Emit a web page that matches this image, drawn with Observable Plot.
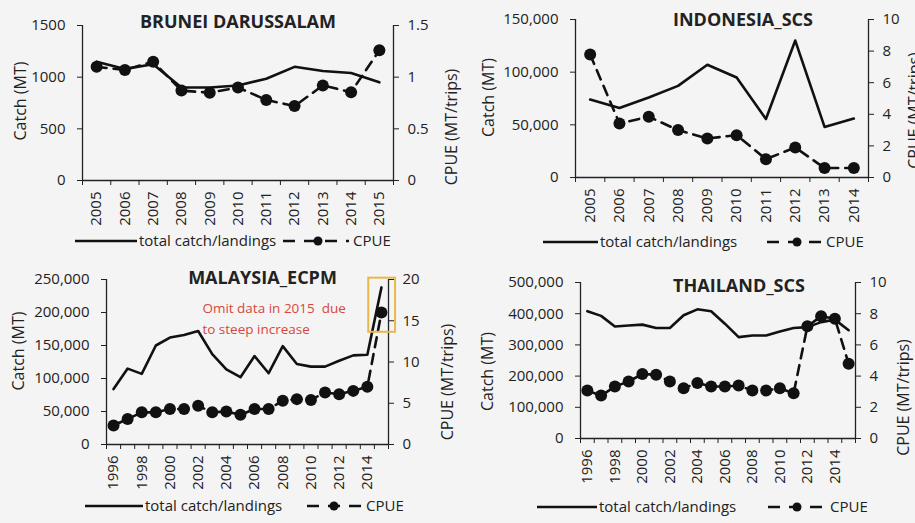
<!DOCTYPE html>
<html><head><meta charset="utf-8">
<script src="https://cdn.jsdelivr.net/npm/d3@7"></script>
<script src="https://cdn.jsdelivr.net/npm/@observablehq/plot@0.6"></script>
<style>
html,body{margin:0;padding:0;background:#f4f4f4;overflow:hidden;}
#wrap{position:relative;width:915px;height:523px;font-family:"Open Sans",sans-serif;color:#222;}
.panel{position:absolute;}
#overlay{position:absolute;left:0;top:0;pointer-events:none;}
</style></head><body>
<div id="wrap"></div>
<script>
// ---------- DATA ----------
const bruneiYears = [2005,2006,2007,2008,2009,2010,2011,2012,2013,2014,2015];
const bruneiCatch = [1150,1080,1125,900,900,920,985,1100,1060,1040,950];
const bruneiCpue  = [1.10,1.07,1.15,0.87,0.85,0.90,0.78,0.72,0.92,0.855,1.26];

const indoYears = [2005,2006,2007,2008,2009,2010,2011,2012,2013,2014];
const indoCatch = [74000,66000,76000,87000,107000,95000,55500,130000,48000,56000];
const indoCpue  = [7.78,3.42,3.85,3.0,2.47,2.68,1.16,1.9,0.6,0.6];

const malYears = [1996,1997,1998,1999,2000,2001,2002,2003,2004,2005,2006,2007,2008,2009,2010,2011,2012,2013,2014,2015];
const malCatch = [84000,115000,107000,150000,162000,166000,172000,137000,114000,102000,134000,108000,149000,122000,118000,118000,127000,135000,136000,238000];
const malCpue  = [2.3,3.1,3.9,3.9,4.3,4.3,4.7,3.9,4.0,3.6,4.3,4.3,5.3,5.5,5.4,6.3,6.1,6.5,7.0,16.0];

const thaiYears = [1996,1997,1998,1999,2000,2001,2002,2003,2004,2005,2006,2007,2008,2009,2010,2011,2012,2013,2014,2015];
const thaiCatch = [408000,393000,359000,362000,365000,354000,354000,395000,414000,408000,368000,325000,330000,330000,343000,354000,357000,373000,381000,347000];
const thaiCpue  = [3.07,2.75,3.33,3.65,4.14,4.08,3.65,3.22,3.56,3.33,3.33,3.4,3.07,3.07,3.22,2.9,7.19,7.83,7.68,4.79];

const titles = ["BRUNEI DARUSSALAM","INDONESIA_SCS","MALAYSIA_ECPM","THAILAND_SCS"];
const catchLabel = "Catch (MT)";
const cpueLabel = "CPUE (MT/trips)";
const legendCatch = "total catch/landings";
const legendCpue = "CPUE";
const noteText = "Omit data in 2015  due\nto steep increase";

const bruneiYTicks = [0,500,1000,1500], bruneiCTicks = [0,0.5,1,1.5];
const indoYTicks = [0,50000,100000,150000], indoCTicks = [0,2,4,6,8,10];
const malYTicks = [0,50000,100000,150000,200000,250000], malCTicks = [0,5,10,15,20];
const thaiYTicks = [0,100000,200000,300000,400000,500000], thaiCTicks = [0,2,4,6,8,10];
const malLabelYears = [1996,1998,2000,2002,2004,2006,2008,2010,2012,2014];

// ---------- BUILD ----------
const wrap = document.getElementById("wrap");
const FONT = "'Open Sans', sans-serif";

function panel(cfg){
  const {years, catchV, cpueV, yTicks, cTicks, labelYears, title, pos, W, H, mL, mR, mT, mB,
         titleDx, titleDy, catchDx, catchDy, cpueDx, cpueDy, extra, fmtL} = cfg;
  const yMax = yTicks[yTicks.length-1], cMax = cTicks[cTicks.length-1];
  const k = yMax / cMax;
  const data = years.map((y,i)=>({year:y, c:catchV[i], p:cpueV[i]*k}));
  const x0 = years[0]-0.5, x1 = years[years.length-1]+0.5;
  const bounds = d3.range(years.length+1).map(i=>x0+i);
  const marks = [
    Plot.ruleY([0], {stroke:"#222", strokeWidth:1.3}),
    Plot.ruleX([x0, x1], {y1:0, y2:yMax, stroke:"#222", strokeWidth:1.3}),
    Plot.axisX(bounds, {tickSize:5, tickFormat:()=>"", label:null, stroke:"#222"}),
    Plot.axisX(labelYears, {tickSize:0, tickRotate:-90, tickPadding:11, tickFormat:d=>String(d), label:null, fontSize:15}),
    Plot.axisY(yTicks, {anchor:"left", tickSize:5, tickPadding:12, tickFormat:d=>fmtL(d), label:null, fontSize:15}),
    Plot.axisY(cTicks.map(v=>v*k), {anchor:"right", tickSize:5, tickPadding:9, tickFormat:d=>String(+(d/k).toFixed(3)), label:null, fontSize:15}),
    Plot.line(data, {x:"year", y:"c", stroke:"#111", strokeWidth:2.6}),
    Plot.line(data, {x:"year", y:"p", stroke:"#111", strokeWidth:2.6, strokeDasharray:"10,7"}),
    Plot.dot(data, {x:"year", y:"p", r:6, fill:"#111", stroke:"none"}),
    Plot.text([title], {frameAnchor:"top", dx:titleDx, dy:titleDy, lineAnchor:"middle", fontWeight:"bold", fontSize:18, fill:"#222"}),
    Plot.text([catchLabel], {frameAnchor:"left", dx:catchDx, dy:catchDy, rotate:-90, textAnchor:"middle", lineAnchor:"middle", fontSize:16, fill:"#222"}),
    Plot.text([cpueLabel], {frameAnchor:"right", dx:cpueDx, dy:cpueDy, rotate:-90, textAnchor:"middle", lineAnchor:"middle", fontSize:16, fill:"#222"}),
    ...(extra ? extra(k) : [])
  ];
  const chart = Plot.plot({
    width:W, height:H, marginLeft:mL, marginRight:mR, marginTop:mT, marginBottom:mB,
    x:{type:"linear", domain:[x0,x1]},
    y:{domain:[0,yMax]},
    style:{background:"transparent", fontFamily:FONT, fontSize:"15px", color:"#222", overflow:"visible"},
    marks
  });
  const div = document.createElement("div");
  div.className = "panel";
  div.style.left = pos[0]+"px"; div.style.top = pos[1]+"px"; div.style.width = W+"px";
  div.appendChild(chart);
  wrap.appendChild(div);
}

const plain = d => String(d);
const comma = d3.format(",");

panel({years:bruneiYears, catchV:bruneiCatch, cpueV:bruneiCpue, yTicks:bruneiYTicks, cTicks:bruneiCTicks, fmtL:plain,
  labelYears:bruneiYears, title:titles[0], pos:[0,0], W:457, H:232, mL:82, mR:64, mT:25, mB:52,
  titleDx:0, titleDy:-3, catchDx:-62, catchDy:-2, cpueDx:58, cpueDy:24});
panel({years:indoYears, catchV:indoCatch, cpueV:indoCpue, yTicks:indoYTicks, cTicks:indoCTicks, fmtL:comma,
  labelYears:indoYears, title:titles[1], pos:[455,0], W:460, H:232, mL:120, mR:47, mT:19, mB:55,
  titleDx:21, titleDy:1, catchDx:-87, catchDy:-1, cpueDx:46, cpueDy:12});
panel({years:malYears, catchV:malCatch, cpueV:malCpue, yTicks:malYTicks, cTicks:malCTicks, fmtL:comma,
  labelYears:malLabelYears, title:titles[2], pos:[0,255], W:457, H:237, mL:106, mR:69, mT:24, mB:48,
  titleDx:15, titleDy:-1, catchDx:-88, catchDy:-11, cpueDx:59, cpueDy:20,
  extra:(k)=>[
    Plot.text([noteText], {x:2002.3, y:194000, textAnchor:"start", lineAnchor:"middle", lineHeight:1.55, fill:"#d9463c", fontSize:13.5}),
    Plot.rect([0], {x1:2014.1, x2:2016.0, y1:170000, y2:252000, fill:"none", stroke:"#e8b84a", strokeWidth:2})
  ]});
panel({years:thaiYears, catchV:thaiCatch, cpueV:thaiCpue, yTicks:thaiYTicks, cTicks:thaiCTicks, fmtL:comma,
  labelYears:malLabelYears, title:titles[3], pos:[455,255], W:460, H:237, mL:125, mR:60, mT:27, mB:54,
  titleDx:21, titleDy:4, catchDx:-93, catchDy:11, cpueDx:48, cpueDy:37});

// ---------- LEGENDS ----------
const ov = d3.select(wrap).append("svg").attr("id","overlay").attr("width",915).attr("height",523)
  .style("font-family",FONT).style("font-size","15px");
const legends = [
  {y:241, l:[75,137], t:139, d:[283,349], dot:318, c:353},
  {y:242, l:[543,598], t:600, d:[767,823], dot:797, c:826},
  {y:506, l:[85,143], t:145, d:[307,363], dot:334, c:366},
  {y:507, l:[537,597], t:599, d:[768,827], dot:797, c:830}
];
legends.forEach(g=>{
  ov.append("line").attr("x1",g.l[0]).attr("x2",g.l[1]).attr("y1",g.y).attr("y2",g.y).attr("stroke","#111").attr("stroke-width",2.6);
  ov.append("text").attr("x",g.t).attr("y",g.y).attr("dy","0.35em").attr("fill","#222").text(legendCatch);
  ov.append("line").attr("x1",g.d[0]).attr("x2",g.d[1]).attr("y1",g.y).attr("y2",g.y).attr("stroke","#111").attr("stroke-width",2.6).attr("stroke-dasharray","12,9");
  ov.append("circle").attr("cx",g.dot).attr("cy",g.y).attr("r",4.5).attr("fill","#111");
  ov.append("text").attr("x",g.c).attr("y",g.y).attr("dy","0.35em").attr("fill","#222").text(legendCpue);
});
</script>
</body></html>
